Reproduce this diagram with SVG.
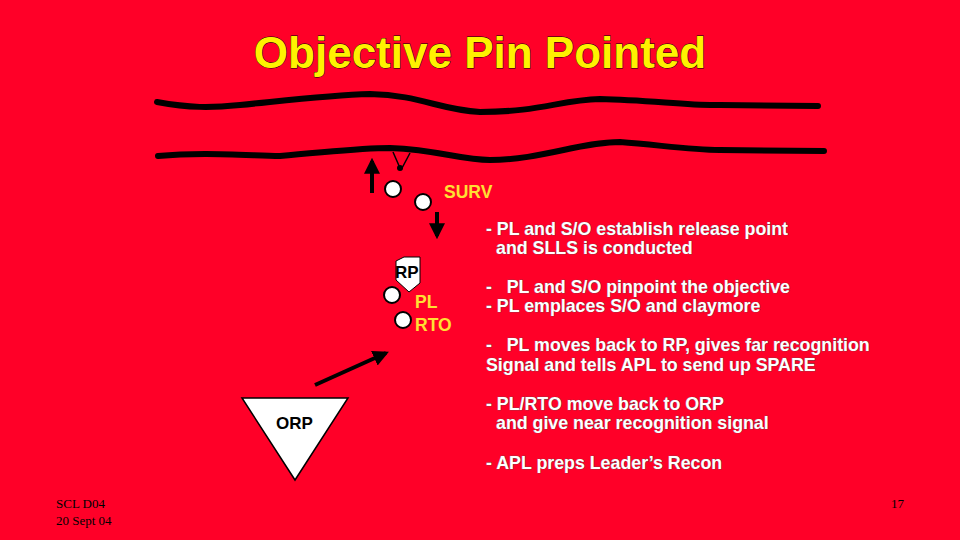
<svg xmlns="http://www.w3.org/2000/svg" width="960" height="540" viewBox="0 0 960 540">
<defs>
<style>
.t{font-family:"Liberation Sans",Arial,sans-serif;font-weight:bold;font-size:17.8px;fill:#fff;stroke:#555;stroke-width:0.6;paint-order:stroke;white-space:pre}
.y{font-family:"Liberation Sans",Arial,sans-serif;font-weight:bold;font-size:17.5px;fill:#FFE033}
.c{fill:#fff;stroke:#000;stroke-width:2}
.riv{fill:none;stroke:#000;stroke-width:6;stroke-linecap:round}
.f{font-family:"Liberation Serif",serif;font-size:13px;fill:#000}
</style>
<marker id="ah" viewBox="0 0 10 10" refX="8" refY="5" markerWidth="4" markerHeight="4" orient="auto"><path d="M0,0L10,5L0,10z" fill="#000"/></marker>
</defs>
<rect width="960" height="540" fill="#FF0028"/>
<text x="480" y="68" text-anchor="middle" font-family="Liberation Sans,Arial,sans-serif" font-weight="bold" font-size="44" fill="#FFF200" stroke="#000" stroke-width="0.8" style="paint-order:stroke">Objective Pin Pointed</text>
<g id="river">
<path class="riv" d="M157,102 C190,108 210,108 240,105 C290,100 330,95 370,94 C420,95 440,110 480,112 C540,112 560,100 600,99 C650,100 690,106 720,105 L818,106"/>
<path class="riv" d="M158,156 C200,152 240,155 280,156 C330,152 360,148 390,148 C440,150 460,160 490,160 C540,160 580,142 620,142 C660,145 690,150 720,150 L824,151"/>
</g>
<g id="connectors">
<line x1="372" y1="193" x2="372" y2="161" stroke="#000" stroke-width="4" marker-end="url(#ah)"/>
<line x1="437" y1="212" x2="437" y2="236" stroke="#000" stroke-width="4" marker-end="url(#ah)"/>
<line x1="315" y1="385" x2="386" y2="353" stroke="#000" stroke-width="4" marker-end="url(#ah)"/>
<path d="M393,152 L400,168 M410,153 L401,170" stroke="#000" stroke-width="1.5" fill="none"/>
<circle cx="400" cy="168" r="3" fill="#000"/>
</g>
<g id="surv">
<circle class="c" cx="393" cy="189" r="8"/>
<circle class="c" cx="423" cy="202" r="8"/>
<text class="y" x="444" y="198">SURV</text>
</g>
<g id="rp">
<path d="M396,261 L404,257 L420,257 L420,283 L409,292 L396,280 Z" fill="#fff" stroke="#000" stroke-width="1"/>
<text x="395" y="278" font-family="Liberation Sans,Arial,sans-serif" font-weight="bold" font-size="17" fill="#000">RP</text>
</g>
<g id="pl">
<circle class="c" cx="392" cy="295" r="8"/>
<text class="y" x="415" y="308">PL</text>
</g>
<g id="rto">
<circle class="c" cx="403" cy="320" r="8"/>
<text class="y" x="415" y="331">RTO</text>
</g>
<g id="orp">
<path d="M242,398 L348,398 L295,480 Z" fill="#fff" stroke="#000" stroke-width="1.5"/>
<text x="276" y="429" font-family="Liberation Sans,Arial,sans-serif" font-weight="bold" font-size="17" fill="#000">ORP</text>
</g>
<g id="notes">
<text class="t" x="486" y="235">- PL and S/O establish release point</text>
<text class="t" x="496" y="254">and SLLS is conducted</text>
<text class="t" x="486" y="293">-   PL and S/O pinpoint the objective</text>
<text class="t" x="486" y="312">- PL emplaces S/O and claymore</text>
<text class="t" x="486" y="351">-   PL moves back to RP, gives far recognition</text>
<text class="t" x="486" y="371">Signal and tells APL to send up SPARE</text>
<text class="t" x="486" y="410">- PL/RTO move back to ORP</text>
<text class="t" x="496" y="429">and give near recognition signal</text>
<text class="t" x="486" y="469">- APL preps Leader’s Recon</text>
</g>
<text class="f" x="56" y="508">SCL D04</text>
<text class="f" x="56" y="525">20 Sept 04</text>
<text class="f" x="904" y="508" text-anchor="end">17</text>
</svg>
